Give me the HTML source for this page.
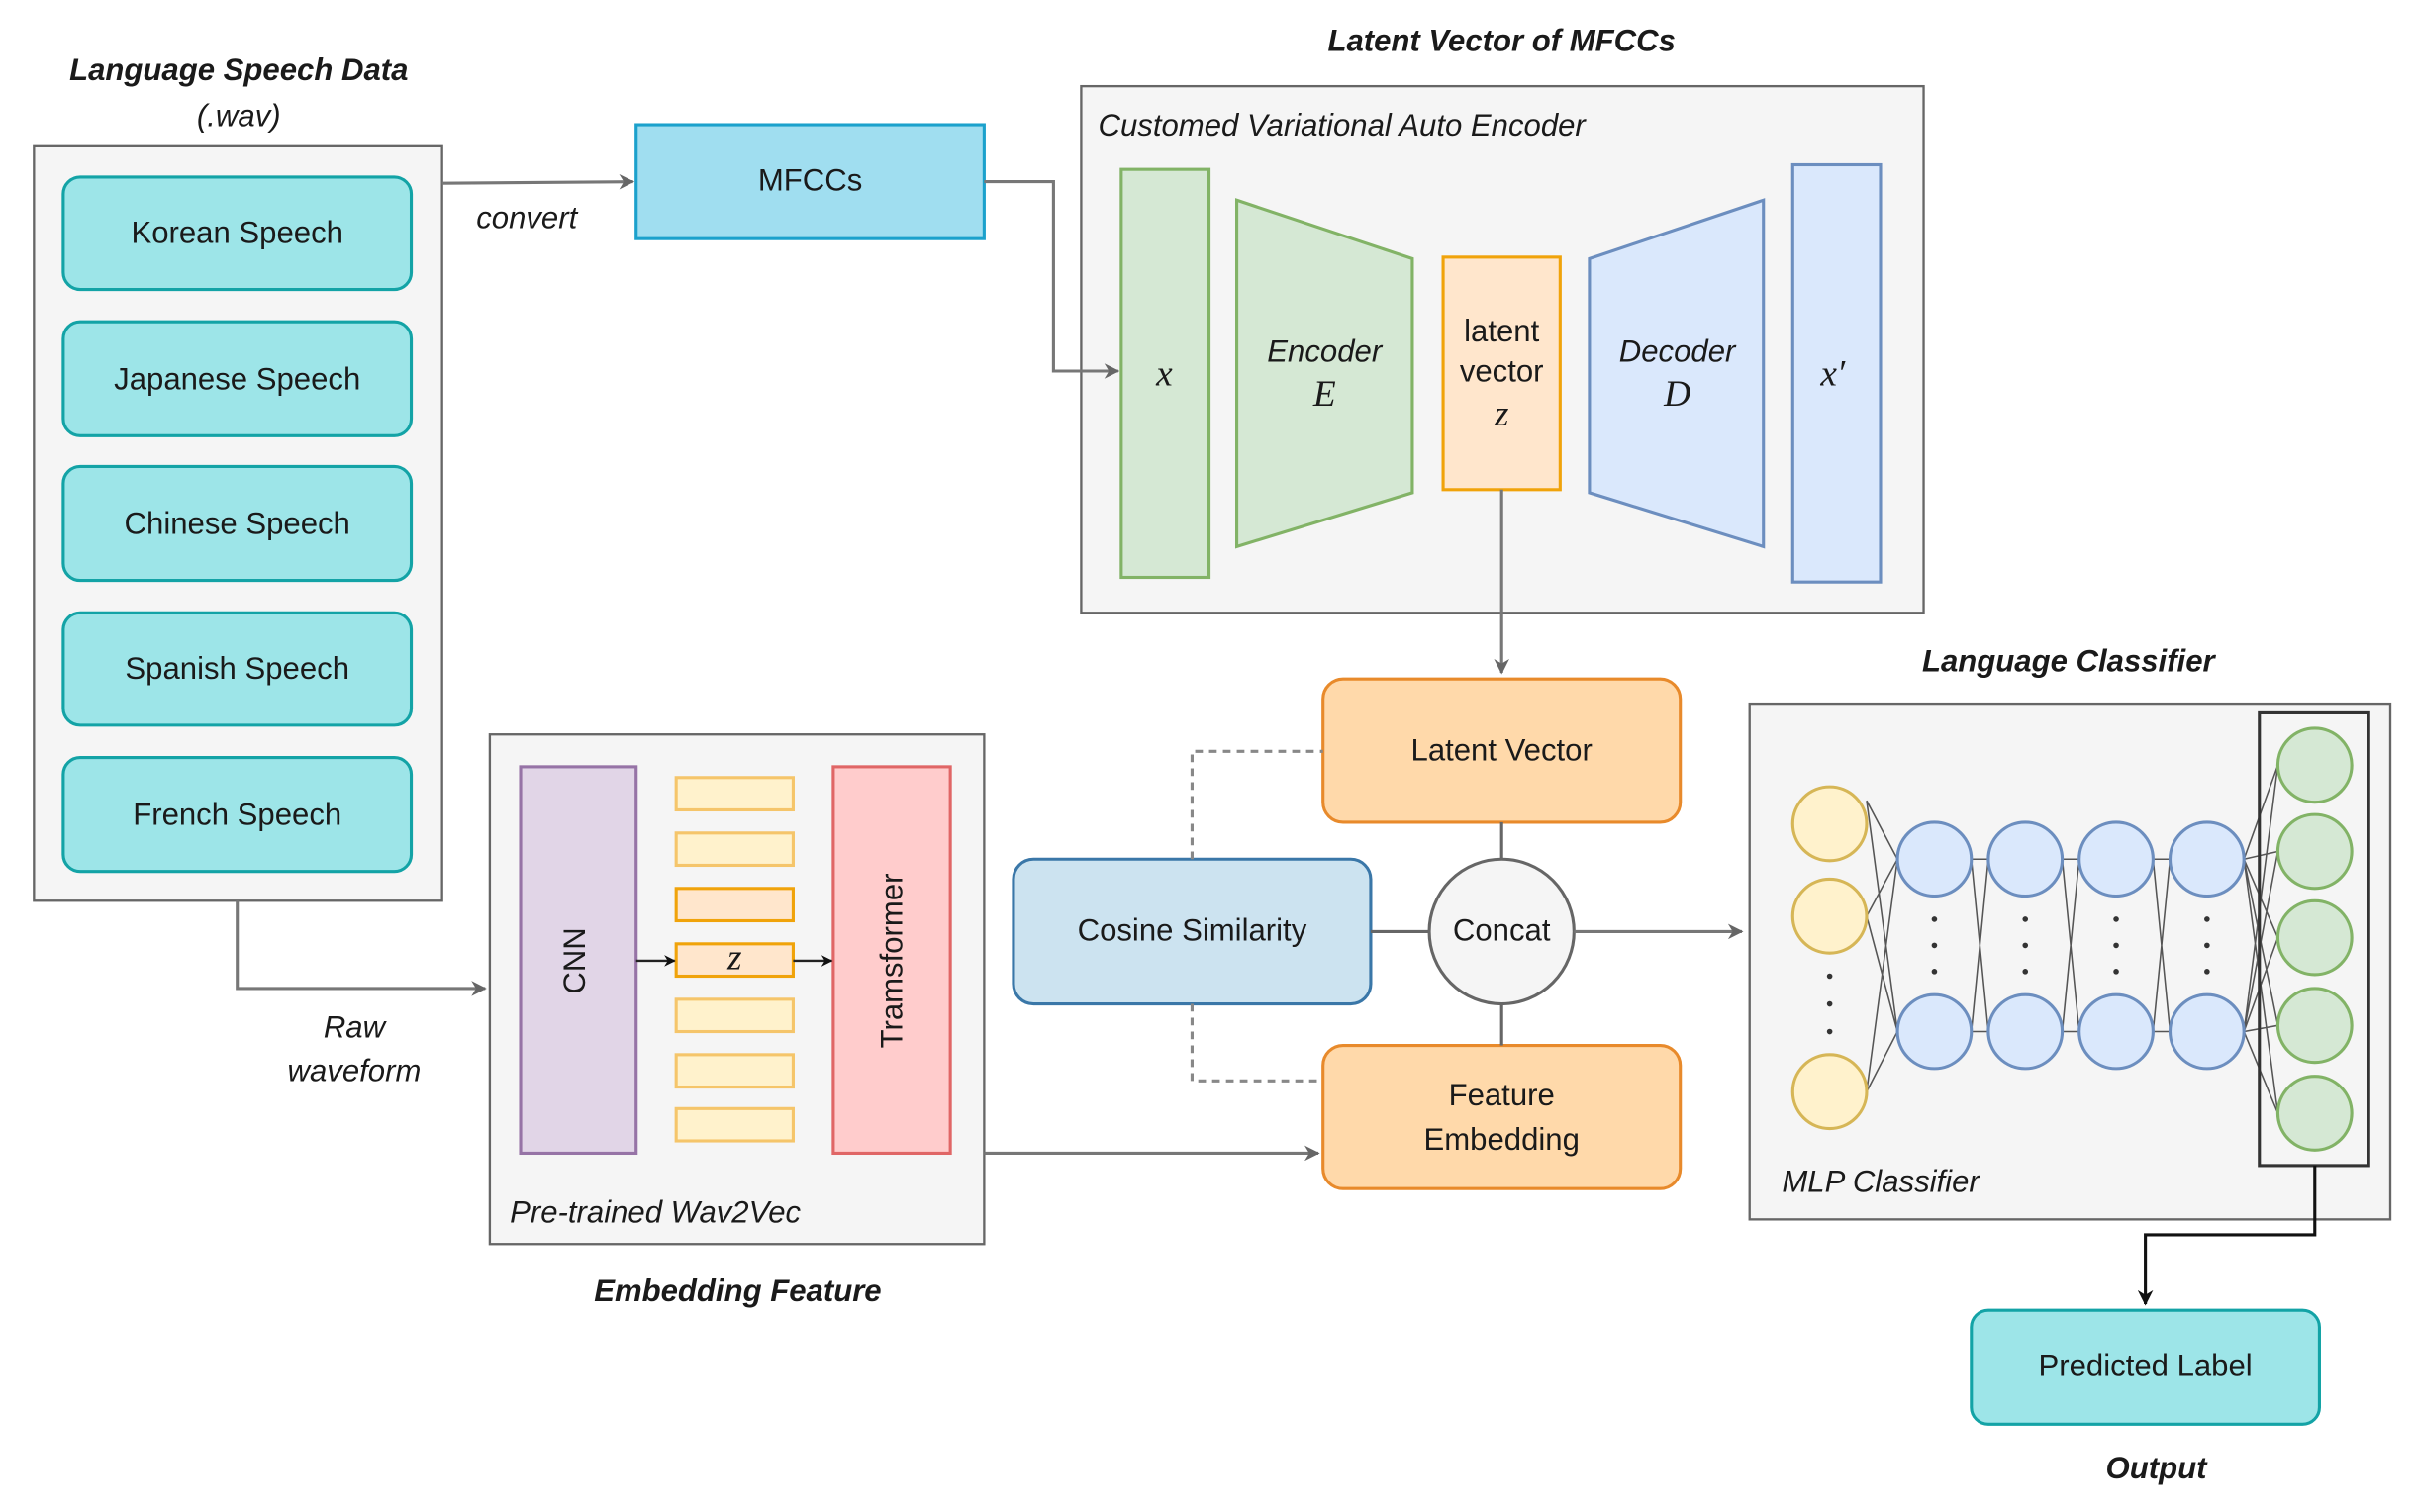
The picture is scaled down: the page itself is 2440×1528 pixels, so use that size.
<!DOCTYPE html>
<html><head><meta charset="utf-8"><style>
html,body{margin:0;padding:0;background:#fff}
svg{display:block}
text{font-family:"Liberation Sans",Arial,sans-serif;fill:#1a1a1a}
.t{font-size:20px;text-anchor:middle;dominant-baseline:central}
.bi{font-size:20px;font-weight:bold;font-style:italic;text-anchor:middle}
.it{font-size:20px;font-style:italic}
.m{font-family:"Liberation Serif",serif;font-style:italic;font-size:24px;text-anchor:middle;dominant-baseline:central}
</style></head><body>
<svg width="2440" height="1528" viewBox="0 0 1568 982" xmlns="http://www.w3.org/2000/svg">
<defs>
<marker id="a" viewBox="0 0 10 10" refX="9" refY="5" markerWidth="5" markerHeight="5" orient="auto"><path d="M0,0L10,5L0,10L3,5z" fill="#666"/></marker>
<marker id="ak" viewBox="0 0 10 10" refX="9" refY="5" markerWidth="5" markerHeight="5" orient="auto"><path d="M0,0L10,5L0,10L3,5z" fill="#111"/></marker>
</defs>
<rect width="1568" height="982" fill="#fff"/>

<!-- Language speech data -->
<text class="bi" x="155" y="52">Language Speech Data</text>
<text class="it" x="155" y="82" text-anchor="middle">(.wav)</text>
<rect x="22" y="95" width="265" height="490" fill="#f5f5f5" stroke="#666" stroke-width="1.5"/>
<g fill="#9de5e8" stroke="#13a3a6" stroke-width="2">
<rect x="41" y="115" width="226" height="73" rx="11"/>
<rect x="41" y="209" width="226" height="74" rx="11"/>
<rect x="41" y="303" width="226" height="74" rx="11"/>
<rect x="41" y="398" width="226" height="73" rx="11"/>
<rect x="41" y="492" width="226" height="74" rx="11"/>
</g>
<text class="t" x="154" y="151">Korean Speech</text>
<text class="t" x="154" y="246">Japanese Speech</text>
<text class="t" x="154" y="340">Chinese Speech</text>
<text class="t" x="154" y="434">Spanish Speech</text>
<text class="t" x="154" y="529">French Speech</text>

<!-- convert -->
<line x1="287" y1="119" x2="411" y2="118" stroke="#777" stroke-width="2" marker-end="url(#a)"/>
<text class="it" x="342" y="148" text-anchor="middle">convert</text>
<rect x="413" y="81" width="226" height="74" fill="#a0def0" stroke="#1ba1cc" stroke-width="2"/>
<text class="t" x="526" y="117">MFCCs</text>

<!-- VAE -->
<text class="bi" x="975" y="33">Latent Vector of MFCCs</text>
<rect x="702" y="56" width="547" height="342" fill="#f5f5f5" stroke="#666" stroke-width="1.5"/>
<text class="it" x="713" y="88">Customed Variational Auto Encoder</text>
<polyline points="639,118 684,118 684,241 726,241" fill="none" stroke="#777" stroke-width="2" marker-end="url(#a)"/>
<rect x="728" y="110" width="57" height="265" fill="#d5e8d4" stroke="#82b366" stroke-width="2"/>
<text class="m" x="756" y="243">x</text>
<polygon points="803,130 917,168 917,320 803,355" fill="#d5e8d4" stroke="#82b366" stroke-width="2"/>
<text class="t" x="860" y="228" font-style="italic">Encoder</text>
<text class="m" x="860" y="256">E</text>
<rect x="937" y="167" width="76" height="151" fill="#ffe6cc" stroke="#f0a30a" stroke-width="2"/>
<text class="t" x="975" y="215">latent</text>
<text class="t" x="975" y="241">vector</text>
<text class="m" x="975" y="269" font-size="20">z</text>
<polygon points="1032,168 1145,130 1145,355 1032,320" fill="#dae8fc" stroke="#6c8ebf" stroke-width="2"/>
<text class="t" x="1089" y="228" font-style="italic">Decoder</text>
<text class="m" x="1089" y="256">D</text>
<rect x="1164" y="107" width="57" height="271" fill="#dae8fc" stroke="#6c8ebf" stroke-width="2"/>
<text class="m" x="1190" y="243">x′</text>
<line x1="975" y1="318" x2="975" y2="437" stroke="#777" stroke-width="2" marker-end="url(#a)"/>

<!-- middle -->
<rect x="859" y="441" width="232" height="93" rx="13" fill="#ffd9aa" stroke="#e88a2b" stroke-width="2"/>
<text class="t" x="975" y="487">Latent Vector</text>
<rect x="859" y="679" width="232" height="93" rx="13" fill="#ffd9aa" stroke="#e88a2b" stroke-width="2"/>
<text class="t" x="975" y="711">Feature</text>
<text class="t" x="975" y="740">Embedding</text>
<line x1="975" y1="534" x2="975" y2="558" stroke="#666" stroke-width="2"/>
<line x1="975" y1="652" x2="975" y2="679" stroke="#666" stroke-width="2"/>
<rect x="658" y="558" width="232" height="94" rx="13" fill="#cce3f0" stroke="#3a77a8" stroke-width="2"/>
<text class="t" x="774" y="604">Cosine Similarity</text>
<line x1="890" y1="605" x2="928" y2="605" stroke="#666" stroke-width="2"/>
<circle cx="975" cy="605" r="47" fill="#f5f5f5" stroke="#666" stroke-width="2"/>
<text class="t" x="975" y="604" fill="#333">Concat</text>
<polyline points="774,558 774,488 859,488" fill="none" stroke="#888" stroke-width="2" stroke-dasharray="5,4"/>
<polyline points="774,652 774,702 859,702" fill="none" stroke="#888" stroke-width="2" stroke-dasharray="5,4"/>
<line x1="1022" y1="605" x2="1131" y2="605" stroke="#777" stroke-width="2" marker-end="url(#a)"/>

<!-- Wav2Vec -->
<polyline points="154,585 154,642 315,642" fill="none" stroke="#777" stroke-width="2" marker-end="url(#a)"/>
<text class="it" x="230" y="674" text-anchor="middle">Raw</text>
<text class="it" x="230" y="702" text-anchor="middle">waveform</text>
<rect x="318" y="477" width="321" height="331" fill="#f5f5f5" stroke="#666" stroke-width="1.5"/>
<text class="it" x="331" y="794">Pre-trained Wav2Vec</text>
<text class="bi" x="479" y="845">Embedding Feature</text>
<rect x="338" y="498" width="75" height="251" fill="#e1d5e7" stroke="#9673a6" stroke-width="2"/>
<text class="t" transform="translate(373,624) rotate(-90)" x="0" y="0">CNN</text>
<rect x="541" y="498" width="76" height="251" fill="#ffcccc" stroke="#e06666" stroke-width="2"/>
<text class="t" transform="translate(579,624) rotate(-90)" x="0" y="0">Tramsformer</text>
<g stroke-width="2">
<rect x="439" y="505" width="76" height="21" fill="#fff2cc" stroke="#f5c56a"/>
<rect x="439" y="541" width="76" height="21" fill="#fff2cc" stroke="#f5c56a"/>
<rect x="439" y="577" width="76" height="21" fill="#ffe6cc" stroke="#f0a30a"/>
<rect x="439" y="613" width="76" height="21" fill="#ffe6cc" stroke="#f0a30a"/>
<rect x="439" y="649" width="76" height="21" fill="#fff2cc" stroke="#f5c56a"/>
<rect x="439" y="685" width="76" height="21" fill="#fff2cc" stroke="#f5c56a"/>
<rect x="439" y="720" width="76" height="21" fill="#fff2cc" stroke="#f5c56a"/>
</g>
<text class="m" x="477" y="622" font-size="18">z</text>
<line x1="413" y1="624" x2="438" y2="624" stroke="#222" stroke-width="1.5" marker-end="url(#ak)"/>
<line x1="515" y1="624" x2="540" y2="624" stroke="#222" stroke-width="1.5" marker-end="url(#ak)"/>
<line x1="639" y1="749" x2="856" y2="749" stroke="#777" stroke-width="2" marker-end="url(#a)"/>

<!-- Classifier -->
<text class="bi" x="1343" y="436">Language Classifier</text>
<rect x="1136" y="457" width="416" height="335" fill="#f5f5f5" stroke="#666" stroke-width="1.5"/>
<text class="it" x="1157" y="774">MLP Classifier</text>
<g stroke="#555" stroke-width="1" fill="none">
<path d="M1212,520L1232,558M1212,520L1232,670M1212,595L1232,558M1212,595L1232,670M1212,709L1232,558M1212,709L1232,670"/>
<path d="M1280,558L1291,558M1280,558L1291,670M1280,670L1291,558M1280,670L1291,670"/>
<path d="M1339,558L1350,558M1339,558L1350,670M1339,670L1350,558M1339,670L1350,670"/>
<path d="M1398,558L1409,558M1398,558L1409,670M1398,670L1409,558M1398,670L1409,670"/>
<path d="M1457,558L1479,497M1457,558L1479,553M1457,558L1479,609M1457,558L1479,666M1457,558L1479,723M1457,670L1479,497M1457,670L1479,553M1457,670L1479,609M1457,670L1479,666M1457,670L1479,723"/>
</g>
<g fill="#fff2cc" stroke="#d6b656" stroke-width="2">
<circle cx="1188" cy="535" r="24"/><circle cx="1188" cy="595" r="24"/><circle cx="1188" cy="709" r="24"/>
</g>
<g fill="#333"><circle cx="1188" cy="634" r="1.8"/><circle cx="1188" cy="652" r="1.8"/><circle cx="1188" cy="670" r="1.8"/></g>
<g fill="#dae8fc" stroke="#6c8ebf" stroke-width="2">
<circle cx="1256" cy="558" r="24"/><circle cx="1315" cy="558" r="24"/><circle cx="1374" cy="558" r="24"/><circle cx="1433" cy="558" r="24"/>
<circle cx="1256" cy="670" r="24"/><circle cx="1315" cy="670" r="24"/><circle cx="1374" cy="670" r="24"/><circle cx="1433" cy="670" r="24"/>
</g>
<g fill="#333">
<circle cx="1256" cy="597" r="1.8"/><circle cx="1256" cy="614" r="1.8"/><circle cx="1256" cy="631" r="1.8"/>
<circle cx="1315" cy="597" r="1.8"/><circle cx="1315" cy="614" r="1.8"/><circle cx="1315" cy="631" r="1.8"/>
<circle cx="1374" cy="597" r="1.8"/><circle cx="1374" cy="614" r="1.8"/><circle cx="1374" cy="631" r="1.8"/>
<circle cx="1433" cy="597" r="1.8"/><circle cx="1433" cy="614" r="1.8"/><circle cx="1433" cy="631" r="1.8"/>
</g>
<rect x="1467" y="463" width="71" height="294" fill="none" stroke="#333" stroke-width="2"/>
<g fill="#d5e8d4" stroke="#82b366" stroke-width="2">
<circle cx="1503" cy="497" r="24"/><circle cx="1503" cy="553" r="24"/><circle cx="1503" cy="609" r="24"/><circle cx="1503" cy="666" r="24"/><circle cx="1503" cy="723" r="24"/>
</g>
<polyline points="1503,757 1503,802 1393,802 1393,847" fill="none" stroke="#111" stroke-width="2" marker-end="url(#ak)"/>
<rect x="1280" y="851" width="226" height="74" rx="11" fill="#9de5e8" stroke="#13a3a6" stroke-width="2"/>
<text class="t" x="1393" y="887">Predicted Label</text>
<text class="bi" x="1400" y="960">Output</text>
</svg>
</body></html>
